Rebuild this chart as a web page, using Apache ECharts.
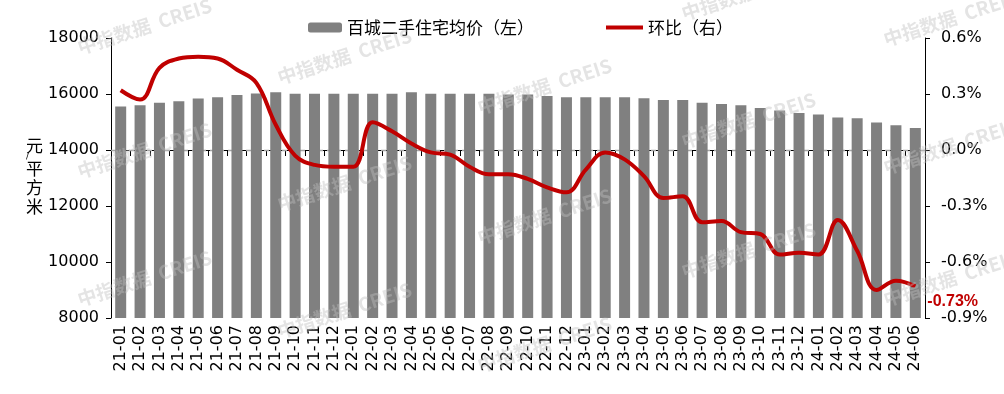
<!DOCTYPE html>
<html>
<head>
<meta charset="utf-8">
<script src="https://cdn.jsdelivr.net/npm/echarts@6/dist/echarts.min.js"></script>
<style>
html,body{margin:0;padding:0;background:#fff;}
#main{width:1004px;height:394px;}
</style>
</head>
<body>
<div id="main"></div>
<script>
const categories = ['21-01','21-02','21-03','21-04','21-05','21-06','21-07','21-08','21-09','21-10','21-11','21-12',
  '22-01','22-02','22-03','22-04','22-05','22-06','22-07','22-08','22-09','22-10','22-11','22-12',
  '23-01','23-02','23-03','23-04','23-05','23-06','23-07','23-08','23-09','23-10','23-11','23-12',
  '24-01','24-02','24-03','24-04','24-05','24-06'];
const priceValues = [15550,15600,15690,15740,15835,15880,15965,16015,16060,16010,16010,16010,
  16010,16010,16010,16060,16010,16010,16010,16010,15980,15980,15930,15880,
  15880,15880,15880,15845,15785,15785,15690,15640,15595,15500,15415,15320,
  15265,15165,15130,14985,14880,14785];
const momValues = [0.32,0.27,0.44,0.49,0.50,0.49,0.43,0.36,0.135,-0.03,-0.08,-0.09,
  -0.09,0.148,0.10,0.035,-0.013,-0.025,-0.09,-0.13,-0.13,-0.155,-0.20,-0.227,
  -0.105,-0.013,-0.05,-0.14,-0.257,-0.248,-0.387,-0.38,-0.44,-0.45,-0.56,-0.55,
  -0.56,-0.375,-0.54,-0.75,-0.70,-0.73];
const leftTicks = {min: 8000, max: 18000, interval: 2000};
const rightTicks = {min: -0.9, max: 0.6, interval: 0.3};
const barName = '百城二手住宅均价（左）';
const lineName = '环比（右）';

const numFont = 'DejaVu Sans';
const cjkFont = '"Noto Sans CJK SC", sans-serif';

const wmPos = [[78,48],[78,172],[78,300],[278,78],[278,205],[278,332],[478,108],[478,238],[478,366],
  [682,142],[682,272],[682,14],[884,40],[884,168],[884,300]];
const watermarks = wmPos.map(p => ({
  type: 'text', x: p[0], y: p[1], rotation: 18 * Math.PI / 180, z: 100, silent: true,
  style: {text: '中指数据  CREIS', fill: 'rgba(190,190,190,0.42)', font: 'bold 19px ' + cjkFont,
    textAlign: 'left', textVerticalAlign: 'middle'}
}));

const chart = echarts.init(document.getElementById('main'));
chart.setOption({
  animation: false,
  backgroundColor: '#fff',
  grid: {left: 111, right: 79, top: 38, bottom: 76, containLabel: false},
  legend: [
    {data: [barName], left: 303, top: 14, itemWidth: 34, itemHeight: 10, itemGap: 4,
      textStyle: {fontFamily: cjkFont, fontSize: 17, color: '#000'}},
    {data: [{name: lineName, icon: 'rect'}], left: 601, top: 14, itemWidth: 37, itemHeight: 4,
      textStyle: {fontFamily: cjkFont, fontSize: 17, color: '#000'}}
  ],
  graphic: [
    {type: 'text', left: 26, top: 137, silent: true,
      style: {text: '{a|元}\n{s|/}\n{a|平}\n{a|方}\n{a|米}', rich: {
        a: {fontFamily: cjkFont, fontSize: 17, lineHeight: 19, fill: '#000'},
        s: {fontFamily: numFont, fontSize: 9, lineHeight: 4, fill: '#000'}
      }}}
  ].concat(watermarks),
  xAxis: {
    type: 'category', data: categories, boundaryGap: true,
    axisLine: {lineStyle: {color: '#000', width: 1}},
    axisTick: {show: true, length: 6, lineStyle: {color: '#000'}, interval: 0},
    axisLabel: {rotate: 90, interval: 0, fontFamily: numFont, fontSize: 16, color: '#000', margin: 7}
  },
  yAxis: [
    {type: 'value', min: leftTicks.min, max: leftTicks.max, interval: leftTicks.interval,
      axisLine: {show: true, lineStyle: {color: '#000'}},
      axisTick: {show: true, length: 5, lineStyle: {color: '#000'}},
      splitLine: {show: false},
      axisLabel: {fontFamily: numFont, fontSize: 16, color: '#000', margin: 12, formatter: v => String(v)}},
    {type: 'value', position: 'right', min: rightTicks.min, max: rightTicks.max, interval: rightTicks.interval,
      axisLine: {show: true, lineStyle: {color: '#000'}},
      axisTick: {show: true, length: 5, lineStyle: {color: '#000'}},
      splitLine: {show: false},
      axisLabel: {fontFamily: numFont, fontSize: 16, color: '#000', margin: 16,
        formatter: v => v.toFixed(1) + '%'}}
  ],
  series: [
    {name: barName, type: 'bar', yAxisIndex: 0, data: priceValues, barWidth: 11,
      itemStyle: {color: '#808080'}, z: 2,
      markLine: {silent: true, symbol: 'none', label: {show: false}, z: 1,
        lineStyle: {type: [5, 4], color: '#a6a6a6', width: 1.3},
        data: [{yAxis: 14000}]}},
    {name: lineName, type: 'line', yAxisIndex: 1, smooth: 0.4, symbol: 'none', z: 5,
      lineStyle: {color: '#C00000', width: 4}, itemStyle: {color: '#C00000'},
      data: momValues,
      endLabel: {show: true, distance: 5, offset: [7, 15], formatter: p => Number(p.value).toFixed(2) + '%',
        color: '#C00000', fontFamily: 'Liberation Sans', fontWeight: 'bold', fontSize: 16}}
  ]
});
</script>
</body>
</html>
